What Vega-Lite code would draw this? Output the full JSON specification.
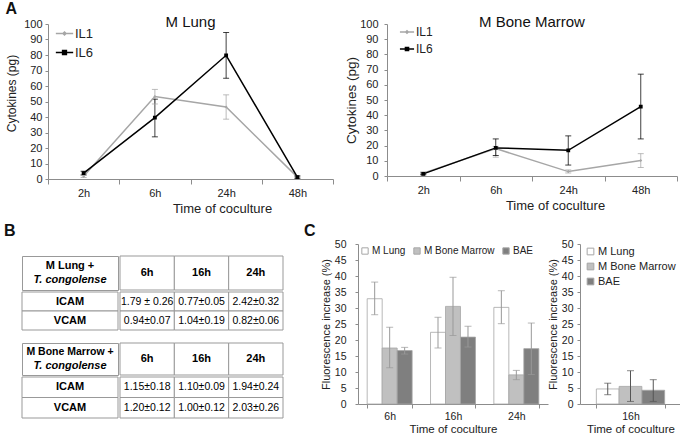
{
  "$schema": "https://vega.github.io/schema/vega-lite/v6.json",
  "padding": {"left": 3, "top": 1, "right": 0, "bottom": 0},
  "background": "white",
  "config": {
    "font": "Liberation Sans",
    "view": {"stroke": null},
    "axis": {"grid": false, "domainColor": "#8c8c8c", "tickColor": "#8c8c8c", "labelColor": "#222222", "titleColor": "#222222", "titleFontWeight": "normal", "labelOverlap": false},
    "title": {"color": "#111111"},
    "legend": {"padding": 0, "labelColor": "#222222"}
  },
  "resolve": {"scale": {"color": "independent", "shape": "independent"}, "legend": {"color": "independent", "shape": "independent"}},
  "datasets": {
    "cyto": [
      {"panel": "M Lung", "series": "IL1", "time": "2h", "value": 1.8, "lo": 1.0, "hi": 2.6},
      {"panel": "M Lung", "series": "IL1", "time": "6h", "value": 53.2, "lo": 48.4, "hi": 57.8},
      {"panel": "M Lung", "series": "IL1", "time": "24h", "value": 46.4, "lo": 38.6, "hi": 54.3},
      {"panel": "M Lung", "series": "IL1", "time": "48h", "value": 1.2, "lo": 0.6, "hi": 1.8},
      {"panel": "M Lung", "series": "IL6", "time": "2h", "value": 3.8, "lo": 2.6, "hi": 5.0},
      {"panel": "M Lung", "series": "IL6", "time": "6h", "value": 39.6, "lo": 27.2, "hi": 51.5},
      {"panel": "M Lung", "series": "IL6", "time": "24h", "value": 79.8, "lo": 65.0, "hi": 94.5},
      {"panel": "M Lung", "series": "IL6", "time": "48h", "value": 1.2, "lo": 0.5, "hi": 2.0},
      {"panel": "M Bone Marrow", "series": "IL1", "time": "2h", "value": 1.8, "lo": 0.9, "hi": 2.7},
      {"panel": "M Bone Marrow", "series": "IL1", "time": "6h", "value": 18.0, "lo": 12.4, "hi": 19.5},
      {"panel": "M Bone Marrow", "series": "IL1", "time": "24h", "value": 2.9, "lo": 2.0, "hi": 4.0},
      {"panel": "M Bone Marrow", "series": "IL1", "time": "48h", "value": 10.2, "lo": 5.6, "hi": 14.7},
      {"panel": "M Bone Marrow", "series": "IL6", "time": "2h", "value": 1.4, "lo": 0.8, "hi": 2.0},
      {"panel": "M Bone Marrow", "series": "IL6", "time": "6h", "value": 18.5, "lo": 13.5, "hi": 24.4},
      {"panel": "M Bone Marrow", "series": "IL6", "time": "24h", "value": 16.9, "lo": 7.2, "hi": 26.4},
      {"panel": "M Bone Marrow", "series": "IL6", "time": "48h", "value": 45.6, "lo": 24.4, "hi": 67.0}
    ],
    "fluor": [
      {"panel": "left", "time": "6h", "cell": "M Lung", "value": 32.9, "lo": 27.9, "hi": 38.1},
      {"panel": "left", "time": "6h", "cell": "M Bone Marrow", "value": 17.5, "lo": 11.3, "hi": 24.0},
      {"panel": "left", "time": "6h", "cell": "BAE", "value": 16.7, "lo": 15.6, "hi": 17.7},
      {"panel": "left", "time": "16h", "cell": "M Lung", "value": 22.4, "lo": 17.5, "hi": 27.1},
      {"panel": "left", "time": "16h", "cell": "M Bone Marrow", "value": 30.5, "lo": 21.4, "hi": 39.6},
      {"panel": "left", "time": "16h", "cell": "BAE", "value": 20.9, "lo": 17.8, "hi": 24.3},
      {"panel": "left", "time": "24h", "cell": "M Lung", "value": 30.2, "lo": 25.1, "hi": 35.4},
      {"panel": "left", "time": "24h", "cell": "M Bone Marrow", "value": 9.1, "lo": 7.6, "hi": 10.5},
      {"panel": "left", "time": "24h", "cell": "BAE", "value": 17.3, "lo": 9.2, "hi": 25.3},
      {"panel": "right", "time": "16h", "cell": "M Lung", "value": 4.7, "lo": 2.9, "hi": 6.5},
      {"panel": "right", "time": "16h", "cell": "M Bone Marrow", "value": 5.5, "lo": 0.8, "hi": 10.4},
      {"panel": "right", "time": "16h", "cell": "BAE", "value": 4.3, "lo": 0.8, "hi": 7.6}
    ],
    "labels": [
      {"k": "ytitle", "t": "Cytokines (pg)"},
      {"k": "B", "t": "B"},
      {"k": "C", "t": "C"}
    ],
    "heads": [
      {"t": "1", "a": "M Lung +", "b": "T. congolense"},
      {"t": "2", "a": "M Bone Marrow +", "b": "T. congolense"}
    ],
    "cols": [{"c": "6h"}, {"c": "16h"}, {"c": "24h"}],
    "rows": [{"r": "ICAM"}, {"r": "VCAM"}],
    "cells": [
      {"t": "1", "r": "ICAM", "c": "6h", "v": "1.79 ± 0.26"},
      {"t": "1", "r": "ICAM", "c": "16h", "v": "0.77±0.05"},
      {"t": "1", "r": "ICAM", "c": "24h", "v": "2.42±0.32"},
      {"t": "1", "r": "VCAM", "c": "6h", "v": "0.94±0.07"},
      {"t": "1", "r": "VCAM", "c": "16h", "v": "1.04±0.19"},
      {"t": "1", "r": "VCAM", "c": "24h", "v": "0.82±0.06"},
      {"t": "2", "r": "ICAM", "c": "6h", "v": "1.15±0.18"},
      {"t": "2", "r": "ICAM", "c": "16h", "v": "1.10±0.09"},
      {"t": "2", "r": "ICAM", "c": "24h", "v": "1.94±0.24"},
      {"t": "2", "r": "VCAM", "c": "6h", "v": "1.20±0.12"},
      {"t": "2", "r": "VCAM", "c": "16h", "v": "1.00±0.12"},
      {"t": "2", "r": "VCAM", "c": "24h", "v": "2.03±0.26"}
    ]
  },
  "spacing": 8,
  "vconcat": [
    {
      "title": {"text": "A", "anchor": "start", "fontSize": 16, "fontWeight": "bold", "offset": -2},
      "spacing": 0,
      "resolve": {"scale": {"color": "independent", "shape": "independent"}, "legend": {"color": "independent", "shape": "independent"}},
      "hconcat": [
        {"width": 1, "height": 155, "data": {"name": "labels"}, "transform": [{"filter": "datum.k === 'ytitle'"}],
         "mark": {"type": "text", "angle": 270, "fontSize": 12, "baseline": "bottom", "dy": -4, "dx": 8, "color": "#222222"},
         "encoding": {"text": {"field": "t"}}},
        {
          "spacing": 10,
          "resolve": {"scale": {"color": "independent", "shape": "independent"}, "legend": {"color": "independent", "shape": "independent"}},
          "hconcat": [
            {
              "width": 285, "height": 155,
              "title": {"text": "M Lung", "fontSize": 15, "fontWeight": "normal", "offset": -12},
              "data": {"name": "cyto"},
              "transform": [{"filter": "datum.panel === 'M Lung'"}],
              "encoding": {
                "x": {"field": "time", "type": "nominal", "sort": ["2h", "6h", "24h", "48h"], "title": "Time of coculture",
                  "axis": {"tickBand": "extent", "labelAngle": 0, "tickSize": 5, "labelPadding": 3, "labelFontSize": 11, "titleFontSize": 13, "titlePadding": 4, "titleX": 174}}
              },
              "layer": [
                {"mark": {"type": "rule", "strokeWidth": 1, "opacity": 0.75},
                 "encoding": {
                   "y": {"field": "lo", "type": "quantitative", "title": null, "scale": {"domain": [0, 100], "nice": false},
                     "axis": {"values": [0, 10, 20, 30, 40, 50, 60, 70, 80, 90, 100], "tickSize": 3, "labelPadding": 3, "labelFontSize": 11}},
                   "y2": {"field": "hi"},
                   "color": {"condition": {"test": "datum.series === 'IL1'", "value": "#a6a6a6"}, "value": "#000000"}}},
                {"mark": {"type": "tick", "size": 6, "thickness": 1, "opacity": 0.75},
                 "encoding": {"y": {"field": "lo", "type": "quantitative", "title": null, "scale": {"domain": [0, 100], "nice": false},
                     "axis": {"values": [0, 10, 20, 30, 40, 50, 60, 70, 80, 90, 100], "tickSize": 3, "labelPadding": 3, "labelFontSize": 11}},
                   "color": {"condition": {"test": "datum.series === 'IL1'", "value": "#a6a6a6"}, "value": "#000000"}}},
                {"mark": {"type": "tick", "size": 6, "thickness": 1, "opacity": 0.75},
                 "encoding": {"y": {"field": "hi", "type": "quantitative", "title": null, "scale": {"domain": [0, 100], "nice": false},
                     "axis": {"values": [0, 10, 20, 30, 40, 50, 60, 70, 80, 90, 100], "tickSize": 3, "labelPadding": 3, "labelFontSize": 11}},
                   "color": {"condition": {"test": "datum.series === 'IL1'", "value": "#a6a6a6"}, "value": "#000000"}}},
                {"mark": {"type": "line", "strokeWidth": 1.5},
                 "encoding": {"y": {"field": "value", "type": "quantitative", "title": null, "scale": {"domain": [0, 100], "nice": false},
                     "axis": {"values": [0, 10, 20, 30, 40, 50, 60, 70, 80, 90, 100], "tickSize": 3, "labelPadding": 3, "labelFontSize": 11}},
                   "color": {"field": "series", "type": "nominal", "scale": {"domain": ["IL1", "IL6"], "range": ["#a6a6a6", "#000000"]},
                     "legend": {"title": null, "orient": "top-left", "offset": 0, "symbolSize": 300, "labelFontSize": 13, "symbolOffset": 7, "rowPadding": 2, "labelOffset": 1, "symbolStrokeWidth": 1.5}}}},
                {"mark": {"type": "point", "filled": true, "size": 300, "opacity": 1},
                 "encoding": {"y": {"field": "value", "type": "quantitative", "title": null, "scale": {"domain": [0, 100], "nice": false},
                     "axis": {"values": [0, 10, 20, 30, 40, 50, 60, 70, 80, 90, 100], "tickSize": 3, "labelPadding": 3, "labelFontSize": 11}},
                   "color": {"field": "series", "type": "nominal", "scale": {"domain": ["IL1", "IL6"], "range": ["#a6a6a6", "#000000"]},
                     "legend": {"title": null, "orient": "top-left", "offset": 0, "symbolSize": 300, "labelFontSize": 13, "symbolOffset": 7, "rowPadding": 2, "labelOffset": 1, "symbolStrokeWidth": 1.5}},
                   "shape": {"field": "series", "type": "nominal", "scale": {"domain": ["IL1", "IL6"], "range": ["M-1,0H1M0,-0.17L0.17,0L0,0.17L-0.17,0Z", "M-1,0H1M-0.22,-0.22H0.22V0.22H-0.22Z"]},
                     "legend": {"title": null, "orient": "top-left", "offset": 0, "symbolSize": 300, "labelFontSize": 13, "symbolOffset": 7, "rowPadding": 2, "labelOffset": 1, "symbolStrokeWidth": 1.5}}}}
              ]
            },
            {
              "width": 290, "height": 152,
              "title": {"text": "M Bone Marrow", "fontSize": 15, "fontWeight": "normal", "offset": -12},
              "data": {"name": "cyto"},
              "transform": [{"filter": "datum.panel === 'M Bone Marrow'"}],
              "encoding": {
                "x": {"field": "time", "type": "nominal", "sort": ["2h", "6h", "24h", "48h"], "title": "Time of coculture",
                  "axis": {"tickBand": "extent", "labelAngle": 0, "tickSize": 5, "labelPadding": 3, "labelFontSize": 11, "titleFontSize": 13, "titlePadding": 4, "titleX": 168}}
              },
              "layer": [
                {"mark": {"type": "rule", "strokeWidth": 1, "opacity": 0.75},
                 "encoding": {
                   "y": {"field": "lo", "type": "quantitative", "title": "Cytokines (pg)", "scale": {"domain": [0, 100], "nice": false},
                     "axis": {"values": [0, 10, 20, 30, 40, 50, 60, 70, 80, 90, 100], "tickSize": 3, "labelPadding": 6, "labelFontSize": 11, "titleFontSize": 13.5, "titlePadding": 1}},
                   "y2": {"field": "hi"},
                   "color": {"condition": {"test": "datum.series === 'IL1'", "value": "#a6a6a6"}, "value": "#000000"}}},
                {"mark": {"type": "tick", "size": 6, "thickness": 1, "opacity": 0.75},
                 "encoding": {"y": {"field": "lo", "type": "quantitative", "title": "Cytokines (pg)", "scale": {"domain": [0, 100], "nice": false},
                     "axis": {"values": [0, 10, 20, 30, 40, 50, 60, 70, 80, 90, 100], "tickSize": 3, "labelPadding": 6, "labelFontSize": 11, "titleFontSize": 13.5, "titlePadding": 1}},
                   "color": {"condition": {"test": "datum.series === 'IL1'", "value": "#a6a6a6"}, "value": "#000000"}}},
                {"mark": {"type": "tick", "size": 6, "thickness": 1, "opacity": 0.75},
                 "encoding": {"y": {"field": "hi", "type": "quantitative", "title": "Cytokines (pg)", "scale": {"domain": [0, 100], "nice": false},
                     "axis": {"values": [0, 10, 20, 30, 40, 50, 60, 70, 80, 90, 100], "tickSize": 3, "labelPadding": 6, "labelFontSize": 11, "titleFontSize": 13.5, "titlePadding": 1}},
                   "color": {"condition": {"test": "datum.series === 'IL1'", "value": "#a6a6a6"}, "value": "#000000"}}},
                {"mark": {"type": "line", "strokeWidth": 1.5},
                 "encoding": {"y": {"field": "value", "type": "quantitative", "title": "Cytokines (pg)", "scale": {"domain": [0, 100], "nice": false},
                     "axis": {"values": [0, 10, 20, 30, 40, 50, 60, 70, 80, 90, 100], "tickSize": 3, "labelPadding": 6, "labelFontSize": 11, "titleFontSize": 13.5, "titlePadding": 1}},
                   "color": {"field": "series", "type": "nominal", "scale": {"domain": ["IL1", "IL6"], "range": ["#a6a6a6", "#000000"]},
                     "legend": {"title": null, "orient": "top-left", "offset": 0, "symbolSize": 200, "labelFontSize": 12, "symbolOffset": 12, "rowPadding": 3, "labelOffset": 1, "symbolStrokeWidth": 1.5}}}},
                {"mark": {"type": "point", "filled": true, "size": 300, "opacity": 1},
                 "encoding": {"y": {"field": "value", "type": "quantitative", "title": "Cytokines (pg)", "scale": {"domain": [0, 100], "nice": false},
                     "axis": {"values": [0, 10, 20, 30, 40, 50, 60, 70, 80, 90, 100], "tickSize": 3, "labelPadding": 6, "labelFontSize": 11, "titleFontSize": 13.5, "titlePadding": 1}},
                   "color": {"field": "series", "type": "nominal", "scale": {"domain": ["IL1", "IL6"], "range": ["#a6a6a6", "#000000"]},
                     "legend": {"title": null, "orient": "top-left", "offset": 0, "symbolSize": 200, "labelFontSize": 12, "symbolOffset": 12, "rowPadding": 3, "labelOffset": 1, "symbolStrokeWidth": 1.5}},
                   "shape": {"field": "series", "type": "nominal", "scale": {"domain": ["IL1", "IL6"], "range": ["M-1,0H1M0,-0.17L0.17,0L0,0.17L-0.17,0Z", "M-1,0H1M-0.22,-0.22H0.22V0.22H-0.22Z"]},
                     "legend": {"title": null, "orient": "top-left", "offset": 0, "symbolSize": 200, "labelFontSize": 12, "symbolOffset": 12, "rowPadding": 3, "labelOffset": 1, "symbolStrokeWidth": 1.5}}}}
              ]
            }
          ]
        }
      ]
    },
    {
      "spacing": 19,
      "resolve": {"scale": {"color": "independent"}, "legend": {"color": "independent"}},
      "hconcat": [
        {
          "spacing": 16,
          "vconcat": [
            {"width": 1, "height": 10, "data": {"name": "labels"}, "transform": [{"filter": "datum.k === 'B'"}],
             "mark": {"type": "text", "fontSize": 16, "fontWeight": "bold", "align": "right", "dx": -7, "color": "#111111"},
             "encoding": {"text": {"field": "t"}}},
            {
              "spacing": 11,
              "vconcat": [
                {
                  "columns": 2, "spacing": 0,
                  "concat": [
                    {"width": 96, "height": 34, "view": {"stroke": "#999999"},
                     "data": {"name": "heads"}, "transform": [{"filter": "datum.t === '1'"}],
                     "layer": [
                       {"mark": {"type": "text", "fontSize": 11, "fontWeight": "bold", "dy": -7}, "encoding": {"text": {"field": "a"}}},
                       {"mark": {"type": "text", "fontSize": 11, "fontWeight": "bold", "fontStyle": "italic", "dy": 7}, "encoding": {"text": {"field": "b"}}}
                     ]},
                    {"width": 163, "height": 34, "data": {"name": "cols"},
                     "encoding": {"x": {"field": "c", "type": "nominal", "sort": ["6h", "16h", "24h"], "axis": null, "scale": {"paddingInner": 0, "paddingOuter": 0}}},
                     "layer": [
                       {"mark": {"type": "rect", "fill": "white", "stroke": "#999999"}},
                       {"mark": {"type": "text", "fontSize": 11, "fontWeight": "bold"}, "encoding": {"text": {"field": "c"}}}
                     ]},
                    {"width": 96, "height": 38, "data": {"name": "rows"},
                     "encoding": {"y": {"field": "r", "type": "nominal", "sort": ["ICAM", "VCAM"], "axis": null, "scale": {"paddingInner": 0, "paddingOuter": 0}}},
                     "layer": [
                       {"mark": {"type": "rect", "fill": "white", "stroke": "#999999"}},
                       {"mark": {"type": "text", "fontSize": 11, "fontWeight": "bold"}, "encoding": {"text": {"field": "r"}}}
                     ]},
                    {"width": 163, "height": 38, "data": {"name": "cells"}, "transform": [{"filter": "datum.t === '1'"}],
                     "encoding": {
                       "x": {"field": "c", "type": "nominal", "sort": ["6h", "16h", "24h"], "axis": null, "scale": {"paddingInner": 0, "paddingOuter": 0}},
                       "y": {"field": "r", "type": "nominal", "sort": ["ICAM", "VCAM"], "axis": null, "scale": {"paddingInner": 0, "paddingOuter": 0}}},
                     "layer": [
                       {"mark": {"type": "rect", "fill": "white", "stroke": "#999999"}},
                       {"mark": {"type": "text", "fontSize": 10.5}, "encoding": {"text": {"field": "v"}}}
                     ]}
                  ]
                },
                {
                  "columns": 2, "spacing": 0,
                  "concat": [
                    {"width": 96, "height": 32, "view": {"stroke": "#999999"},
                     "data": {"name": "heads"}, "transform": [{"filter": "datum.t === '2'"}],
                     "layer": [
                       {"mark": {"type": "text", "fontSize": 10.5, "fontWeight": "bold", "dy": -7}, "encoding": {"text": {"field": "a"}}},
                       {"mark": {"type": "text", "fontSize": 11, "fontWeight": "bold", "fontStyle": "italic", "dy": 7}, "encoding": {"text": {"field": "b"}}}
                     ]},
                    {"width": 163, "height": 32, "data": {"name": "cols"},
                     "encoding": {"x": {"field": "c", "type": "nominal", "sort": ["6h", "16h", "24h"], "axis": null, "scale": {"paddingInner": 0, "paddingOuter": 0}}},
                     "layer": [
                       {"mark": {"type": "rect", "fill": "white", "stroke": "#999999"}},
                       {"mark": {"type": "text", "fontSize": 11, "fontWeight": "bold"}, "encoding": {"text": {"field": "c"}}}
                     ]},
                    {"width": 96, "height": 41, "data": {"name": "rows"},
                     "encoding": {"y": {"field": "r", "type": "nominal", "sort": ["ICAM", "VCAM"], "axis": null, "scale": {"paddingInner": 0, "paddingOuter": 0}}},
                     "layer": [
                       {"mark": {"type": "rect", "fill": "white", "stroke": "#999999"}},
                       {"mark": {"type": "text", "fontSize": 11, "fontWeight": "bold"}, "encoding": {"text": {"field": "r"}}}
                     ]},
                    {"width": 163, "height": 41, "data": {"name": "cells"}, "transform": [{"filter": "datum.t === '2'"}],
                     "encoding": {
                       "x": {"field": "c", "type": "nominal", "sort": ["6h", "16h", "24h"], "axis": null, "scale": {"paddingInner": 0, "paddingOuter": 0}},
                       "y": {"field": "r", "type": "nominal", "sort": ["ICAM", "VCAM"], "axis": null, "scale": {"paddingInner": 0, "paddingOuter": 0}}},
                     "layer": [
                       {"mark": {"type": "rect", "fill": "white", "stroke": "#999999"}},
                       {"mark": {"type": "text", "fontSize": 10.5}, "encoding": {"text": {"field": "v"}}}
                     ]}
                  ]
                }
              ]
            }
          ]
        },
        {
          "spacing": 0,
          "resolve": {"scale": {"color": "independent", "xOffset": "independent"}, "legend": {"color": "independent"}},
          "vconcat": [
            {"width": 1, "height": 10, "data": {"name": "labels"}, "transform": [{"filter": "datum.k === 'C'"}],
             "mark": {"type": "text", "fontSize": 16, "fontWeight": "bold", "align": "right", "dx": -43, "color": "#111111"},
             "encoding": {"text": {"field": "t"}}},
            {
              "spacing": 32,
              "bounds": "flush",
              "resolve": {"scale": {"color": "independent", "xOffset": "independent", "x": "independent"}, "legend": {"color": "independent"}},
              "hconcat": [
                {
                  "width": 190, "height": 160,
                  "data": {"name": "fluor"},
                  "transform": [{"filter": "datum.panel === 'left'"}],
                  "encoding": {
                    "x": {"field": "time", "type": "nominal", "sort": ["6h", "16h", "24h"], "title": "Time of coculture",
                      "scale": {"paddingInner": 0.29, "paddingOuter": 0.145},
                      "axis": {"tickBand": "extent", "labelAngle": 0, "tickSize": 4, "labelPadding": 3, "labelFontSize": 10.5, "titleFontSize": 11.5, "titlePadding": 2}},
                    "xOffset": {"field": "cell", "type": "nominal", "sort": ["M Lung", "M Bone Marrow", "BAE"], "scale": {"paddingInner": 0, "paddingOuter": 0}}
                  },
                  "layer": [
                    {"mark": {"type": "bar", "stroke": "#a6a6a6", "strokeWidth": 0.8},
                     "encoding": {
                       "y": {"field": "value", "type": "quantitative", "title": "Fluorescence increase (%)", "scale": {"domain": [0, 50], "nice": false},
                         "axis": {"values": [0, 5, 10, 15, 20, 25, 30, 35, 40, 45, 50], "tickSize": 3, "labelPadding": 9, "labelFontSize": 10.5, "titleFontSize": 11, "titlePadding": 3}},
                       "color": {"field": "cell", "type": "nominal", "sort": ["M Lung", "M Bone Marrow", "BAE"],
                         "scale": {"domain": ["M Lung", "M Bone Marrow", "BAE"], "range": ["#ffffff", "#c0c0c0", "#7f7f7f"]},
                         "legend": {"title": null, "orient": "top-left", "direction": "horizontal", "offset": 2, "gridAlign": "none", "symbolType": "square", "symbolSize": 40, "labelFontSize": 10, "columnPadding": 5, "symbolOffset": 0, "labelOffset": 2, "symbolStrokeColor": "#a6a6a6", "symbolStrokeWidth": 1}}}},
                    {"mark": {"type": "rule", "color": "#999999", "strokeWidth": 1},
                     "encoding": {"y": {"field": "lo", "type": "quantitative", "title": "Fluorescence increase (%)", "scale": {"domain": [0, 50], "nice": false},
                         "axis": {"values": [0, 5, 10, 15, 20, 25, 30, 35, 40, 45, 50], "tickSize": 3, "labelPadding": 9, "labelFontSize": 10.5, "titleFontSize": 11, "titlePadding": 3}}, "y2": {"field": "hi"}}},
                    {"mark": {"type": "tick", "color": "#999999", "size": 7, "thickness": 1},
                     "encoding": {"y": {"field": "lo", "type": "quantitative", "title": "Fluorescence increase (%)", "scale": {"domain": [0, 50], "nice": false},
                         "axis": {"values": [0, 5, 10, 15, 20, 25, 30, 35, 40, 45, 50], "tickSize": 3, "labelPadding": 9, "labelFontSize": 10.5, "titleFontSize": 11, "titlePadding": 3}}}},
                    {"mark": {"type": "tick", "color": "#999999", "size": 7, "thickness": 1},
                     "encoding": {"y": {"field": "hi", "type": "quantitative", "title": "Fluorescence increase (%)", "scale": {"domain": [0, 50], "nice": false},
                         "axis": {"values": [0, 5, 10, 15, 20, 25, 30, 35, 40, 45, 50], "tickSize": 3, "labelPadding": 9, "labelFontSize": 10.5, "titleFontSize": 11, "titlePadding": 3}}}}
                  ]
                },
                {
                  "width": 101, "height": 160,
                  "data": {"name": "fluor"},
                  "transform": [{"filter": "datum.panel === 'right'"}],
                  "encoding": {
                    "x": {"field": "time", "type": "nominal", "title": "Time of coculture",
                      "scale": {"paddingInner": 0.29, "paddingOuter": 0.17},
                      "axis": {"tickBand": "extent", "labelAngle": 0, "tickSize": 4, "labelPadding": 3, "labelFontSize": 10.5, "titleFontSize": 11.5, "titlePadding": 2}},
                    "xOffset": {"field": "cell", "type": "nominal", "sort": ["M Lung", "M Bone Marrow", "BAE"], "scale": {"paddingInner": 0, "paddingOuter": 0}}
                  },
                  "layer": [
                    {"mark": {"type": "bar", "stroke": "#a6a6a6", "strokeWidth": 0.8},
                     "encoding": {
                       "y": {"field": "value", "type": "quantitative", "title": "Fluorescence increase (%)", "scale": {"domain": [0, 50], "nice": false},
                         "axis": {"values": [0, 5, 10, 15, 20, 25, 30, 35, 40, 45, 50], "tickSize": 3, "labelPadding": 4, "labelFontSize": 10.5, "titleFontSize": 11, "titlePadding": 3}},
                       "color": {"field": "cell", "type": "nominal", "sort": ["M Lung", "M Bone Marrow", "BAE"],
                         "scale": {"domain": ["M Lung", "M Bone Marrow", "BAE"], "range": ["#ffffff", "#c0c0c0", "#7f7f7f"]},
                         "legend": {"title": null, "orient": "top-left", "direction": "vertical", "offset": 2, "symbolType": "square", "symbolSize": 45, "labelFontSize": 11, "rowPadding": 3, "symbolOffset": 3, "labelOffset": 2, "symbolStrokeColor": "#a6a6a6", "symbolStrokeWidth": 1}}}},
                    {"mark": {"type": "rule", "color": "#555555", "strokeWidth": 1},
                     "encoding": {"y": {"field": "lo", "type": "quantitative", "title": "Fluorescence increase (%)", "scale": {"domain": [0, 50], "nice": false},
                         "axis": {"values": [0, 5, 10, 15, 20, 25, 30, 35, 40, 45, 50], "tickSize": 3, "labelPadding": 4, "labelFontSize": 10.5, "titleFontSize": 11, "titlePadding": 3}}, "y2": {"field": "hi"}}},
                    {"mark": {"type": "tick", "color": "#555555", "size": 7, "thickness": 1},
                     "encoding": {"y": {"field": "lo", "type": "quantitative", "title": "Fluorescence increase (%)", "scale": {"domain": [0, 50], "nice": false},
                         "axis": {"values": [0, 5, 10, 15, 20, 25, 30, 35, 40, 45, 50], "tickSize": 3, "labelPadding": 4, "labelFontSize": 10.5, "titleFontSize": 11, "titlePadding": 3}}}},
                    {"mark": {"type": "tick", "color": "#555555", "size": 7, "thickness": 1},
                     "encoding": {"y": {"field": "hi", "type": "quantitative", "title": "Fluorescence increase (%)", "scale": {"domain": [0, 50], "nice": false},
                         "axis": {"values": [0, 5, 10, 15, 20, 25, 30, 35, 40, 45, 50], "tickSize": 3, "labelPadding": 4, "labelFontSize": 10.5, "titleFontSize": 11, "titlePadding": 3}}}}
                  ]
                }
              ]
            }
          ]
        }
      ]
    }
  ]
}
